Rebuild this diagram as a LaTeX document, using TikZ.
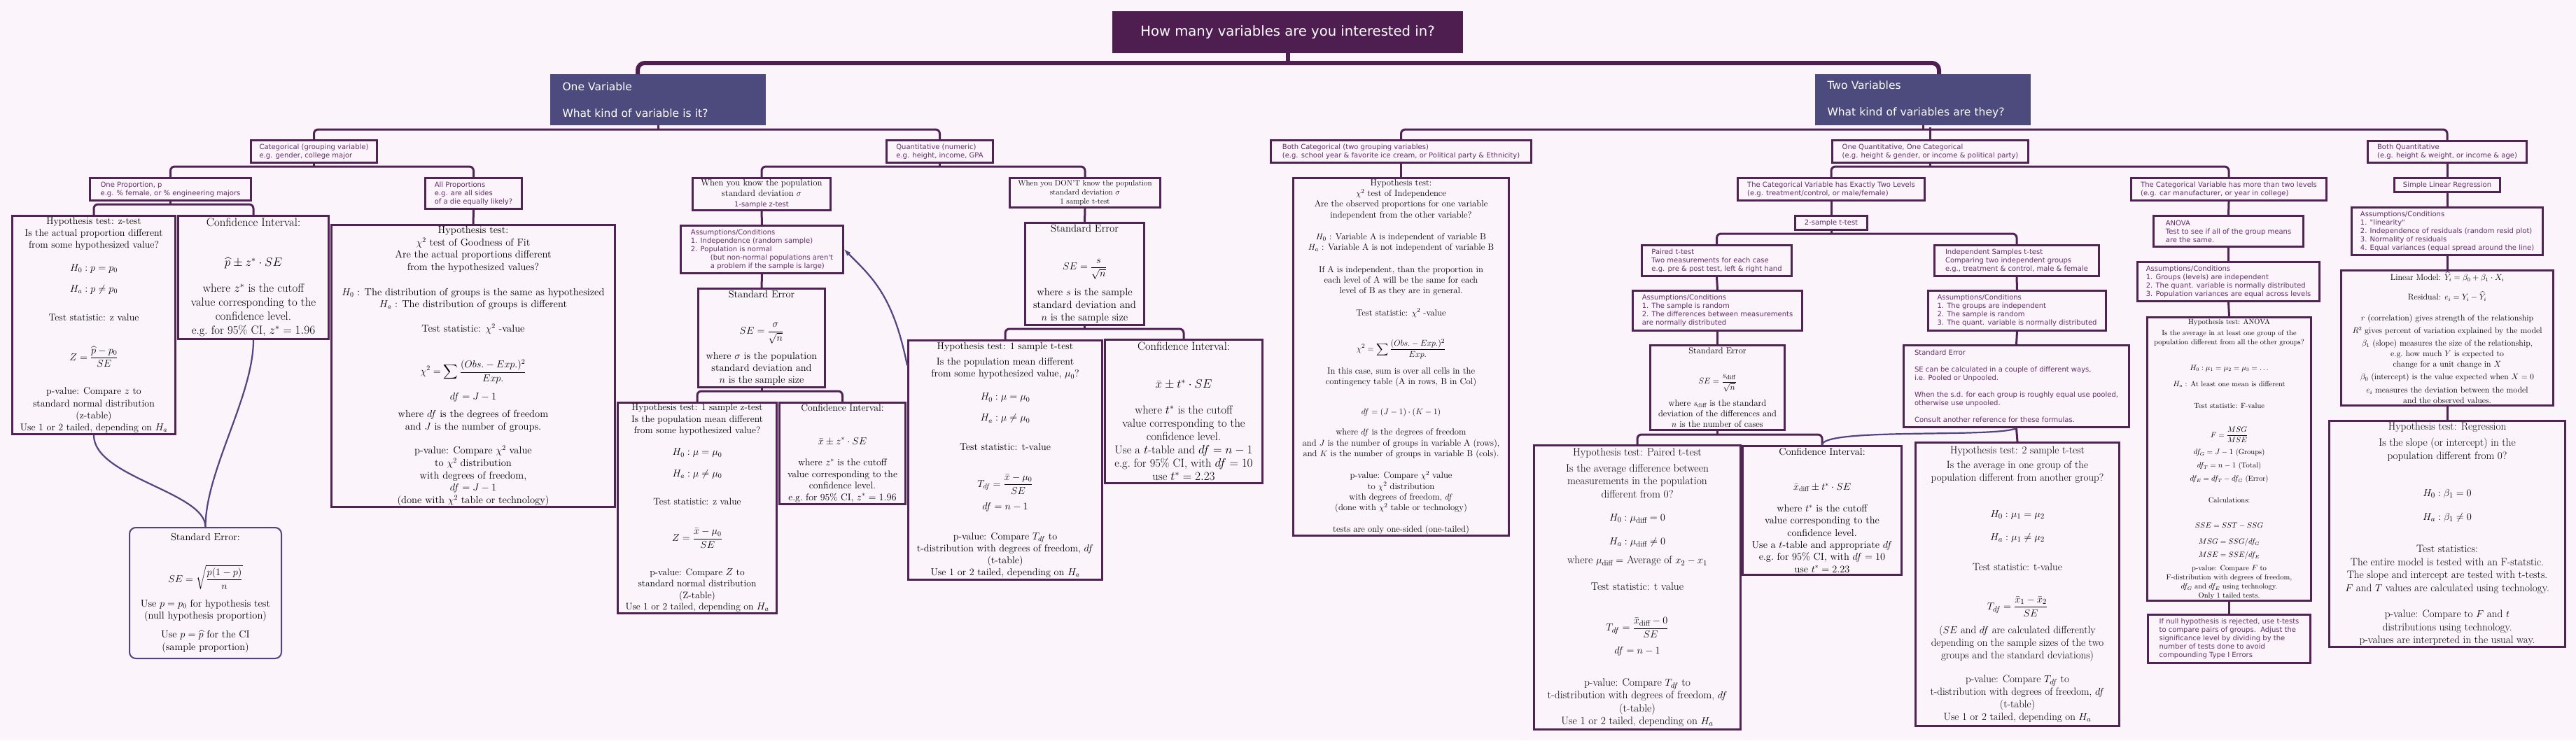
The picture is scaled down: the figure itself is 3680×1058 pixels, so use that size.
\documentclass[tikz,border=0pt]{standalone}
\usepackage{amsmath}
\usepackage{fontspec}
\newfontfamily\sansf{DejaVu Sans}
\usepackage{tikz}
\usetikzlibrary{arrows,calc,positioning}
\definecolor{bg}{RGB}{251,245,251}
\definecolor{boxc}{RGB}{80,35,84}
\definecolor{sanstext}{RGB}{100,45,105}
\definecolor{titlefill}{RGB}{78,30,80}
\definecolor{varfill}{RGB}{77,74,125}
\definecolor{curvec}{RGB}{82,68,128}
\newcommand{\fsz}[2]{\fontsize{#1}{#2}\selectfont}
\tikzstyle{sbox} = [rectangle, draw=boxc, line width=3pt, anchor=north west, inner xsep=8pt, inner ysep=2pt, align=left, text=sanstext, font={\sansf\fsz{10}{12}}]
\tikzstyle{tbox} = [rectangle, draw=boxc, line width=3pt, anchor=north west, inner sep=2pt, align=center]
\tikzstyle{conn} = [draw=boxc, line width=3pt, rounded corners=6pt]
\tikzstyle{curv} = [draw=curvec, line width=2.2pt]
\tikzstyle{bracket} = [draw=titlefill, line width=6pt, rounded corners=10pt]
\begin{document}
\begin{tikzpicture}[x=1pt,y=-1pt]
    \fill[bg] (0,0) rectangle (3680,1058);
    \useasboundingbox (0,0) rectangle (3680,1058);

    \node [tbox, fill=titlefill, draw=titlefill, text=white, font={\sansf\fsz{19.6}{24}}, minimum width=498pt, minimum height=57pt] (title) at (1589,16) {How many variables are you interested in?};
    \node [tbox, fill=varfill, draw=varfill, text=white, align=left, text width=273pt, inner xsep=16pt, minimum height=70pt, font={\sansf\fsz{15.5}{19}}] (onevar) at (786,106) {One Variable\\[19pt]What kind of variable is it?};
    \node [tbox, fill=varfill, draw=varfill, text=white, align=left, text width=273pt, inner xsep=16pt, minimum height=70pt, font={\sansf\fsz{15.5}{19}}] (twovar) at (2593,106) {Two Variables\\[19pt]What kind of variables are they?};

    % one variable
    \node [sbox, minimum width=180pt, minimum height=32pt] (cat) at (357,199) {Categorical (grouping variable)\\e.g. gender, college major};
    \node [sbox, minimum width=152pt, minimum height=32pt] (quant) at (1265,199) {Quantitative (numeric)\\e.g. height, income, GPA};
    \node [sbox, minimum width=230pt, minimum height=32pt] (oneprop) at (127,253) {One Proportion, p\\e.g. \% female, or \% engineering majors};
    \node [sbox, minimum width=138pt, minimum height=44pt] (allprop) at (606,253) {All Proportions\\e.g. are all sides\\of a die equally likely?};

    \node [tbox, minimum width=233pt, minimum height=308pt, font=\fsz{14}{17.3}] (ztestp) at (16,307) {Hypothesis test: z-test\\ Is the actual proportion different\\ from some hypothesized value?\\[15pt] $H_0: p=p_0$\\[13pt] $H_a: p\neq p_0$\\[24pt] Test statistic: z value\\[35pt] $\displaystyle Z=\frac{\widehat{p}-p_0}{SE}$\\[28pt] p-value: Compare $z$ to\\ standard normal distribution\\ (z-table)\\ Use 1 or 2 tailed, depending on $H_a$};
    \node [tbox, minimum width=215pt, minimum height=176pt, font=\fsz{16.8}{20}] (cip) at (253,307) {Confidence Interval:\\[37pt] $\widehat{p}\pm z^*\cdot SE$\\[17pt] where $z^*$ is the cutoff\\ value corresponding to the\\ confidence level.\\ e.g.\ for 95\% CI, $z^*=1.96$};
    \node [tbox, minimum width=405pt, minimum height=403pt, font=\fsz{14.6}{17.6}] (gof) at (472,320) {Hypothesis test:\\ $\chi^2$ test of Goodness of Fit\\ Are the actual proportions different\\ from the hypothesized values?\\[18pt] $H_0$ : The distribution of groups is the same as hypothesized\\ $H_a$ : The distribution of groups is different\\[17pt] Test statistic: $\chi^2$ -value\\[36pt] $\displaystyle\chi^2=\sum\frac{(Obs.-Exp.)^2}{Exp.}$\\[12pt] $df=J-1$\\[8pt] where $df$ is the degrees of freedom\\ and $J$ is the number of groups.\\[17pt] p-value: Compare $\chi^2$ value\\ to $\chi^2$ distribution\\ with degrees of freedom,\\ $df=J-1$\\ (done with $\chi^2$ table or technology)};
    \node [tbox, draw=curvec, line width=2pt, rounded corners=9pt, minimum width=217pt, minimum height=187pt, font=\fsz{14.5}{17.7}] (sep) at (184,753) {Standard Error:\\[34pt] $\displaystyle SE=\sqrt{\frac{p(1-p)}{n}}$\\[13pt] Use $p=p_0$ for hypothesis test\\ (null hypothesis proportion)\\[9pt] Use $p=\widehat{p}$ for the CI\\ (sample proportion)};

    \node [tbox, minimum width=197pt, minimum height=46pt, font=\fsz{12.8}{15}] (zknow) at (988,253) {When you know the population\\ standard deviation $\sigma$\\ {\sansf\fsz{10}{13}\color{sanstext}1-sample z-test}};
    \node [sbox, minimum width=232pt, minimum height=68pt] (zassume) at (971,321) {Assumptions/Conditions\\1. Independence (random sample)\\2. Population is normal\\\hspace*{28pt}(but non-normal populations aren't\\\hspace*{28pt}a problem if the sample is large)};
    \node [tbox, minimum width=181pt, minimum height=141pt, font=\fsz{14.4}{17}] (zse) at (996,411) {Standard Error\\[35pt] $\displaystyle SE=\frac{\sigma}{\sqrt{n}}$\\[12pt] where $\sigma$ is the population\\ standard deviation and\\ $n$ is the sample size};
    \node [tbox, minimum width=227pt, minimum height=300pt, font=\fsz{13.6}{16.3}] (zhyp) at (881,574) {Hypothesis test: 1 sample z-test\\ Is the population mean different\\ from some hypothesized value?\\[15pt] $H_0: \mu=\mu_0$\\[14pt] $H_a: \mu\neq\mu_0$\\[24pt] Test statistic: z value\\[33pt] $\displaystyle Z=\frac{\bar{x}-\mu_0}{SE}$\\[28pt] p-value: Compare $Z$ to\\ standard normal distribution\\ (Z-table)\\ Use 1 or 2 tailed, depending on $H_a$};
    \node [tbox, minimum width=180pt, minimum height=145pt, font=\fsz{13.8}{16.5}] (zci) at (1112,574) {Confidence Interval:\\[31pt] $\bar{x}\pm z^*\cdot SE$\\[14pt] where $z^*$ is the cutoff\\ value corresponding to the\\ confidence level.\\ e.g.\ for 95\% CI, $z^*=1.96$};

    \node [tbox, minimum width=215pt, minimum height=42pt, font=\fsz{11.2}{13.3}] (tknow) at (1441,253) {When you DON'T know the population\\ standard deviation $\sigma$\\ 1 sample t-test};
    \node [tbox, minimum width=170pt, minimum height=146pt, font=\fsz{14.8}{18}] (tse) at (1463,317) {Standard Error\\[36pt] $\displaystyle SE=\frac{s}{\sqrt{n}}$\\[12pt] where $s$ is the sample\\ standard deviation and\\ $n$ is the sample size};
    \node [tbox, minimum width=277pt, minimum height=342pt, font=\fsz{14.2}{17}] (thyp) at (1296,485) {Hypothesis test: 1 sample t-test\\[5pt] Is the population mean different\\ from some hypothesized value, $\mu_0$?\\[16pt] $H_0: \mu=\mu_0$\\[13pt] $H_a: \mu\neq\mu_0$\\[25pt] Test statistic: t-value\\[33pt] $\displaystyle T_{df}=\frac{\bar{x}-\mu_0}{SE}$\\[11pt] $df=n-1$\\[26pt] p-value: Compare $T_{df}$ to\\ t-distribution with degrees of freedom, $df$\\ (t-table)\\ Use 1 or 2 tailed, depending on $H_a$};
    \node [tbox, minimum width=225pt, minimum height=205pt, font=\fsz{16.5}{19}] (tci) at (1577,484) {Confidence Interval:\\[35pt] $\bar{x}\pm t^*\cdot SE$\\[18pt] where $t^*$ is the cutoff\\ value corresponding to the\\ confidence level.\\ Use a $t$-table and $df=n-1$\\ e.g.\ for 95\% CI, with $df=10$\\ use $t^*=2.23$};

    % two variables
    \node [sbox, minimum width=372pt, minimum height=32pt] (bothcat) at (1814,199) {Both Categorical (two grouping variables)\\(e.g. school year \& favorite ice cream, or Political party \& Ethnicity)};
    \node [tbox, minimum width=308pt, minimum height=507pt, font=\fsz{12.7}{15.3}] (indep) at (1846,253) {Hypothesis test:\\ $\chi^2$ test of Independence\\ Are the observed proportions for one variable\\ independent from the other variable?\\[16pt] $H_0$ : Variable A is independent of variable B\\ $H_a$ : Variable A is not independent of variable B\\[16pt] If A is independent, than the proportion in\\ each level of A will be the same for each\\ level of B as they are in general.\\[16pt] Test statistic: $\chi^2$ -value\\[30pt] $\displaystyle\chi^2=\sum\frac{(Obs.-Exp.)^2}{Exp.}$\\[11pt] In this case, sum is over all cells in the\\ contingency table (A in rows, B in Col)\\[28pt] $df=(J-1)\cdot(K-1)$\\[14pt] where $df$ is the degrees of freedom\\ and $J$ is the number of groups in variable A (rows),\\ and $K$ is the number of groups in variable B (cols).\\[16pt] p-value: Compare $\chi^2$ value\\ to $\chi^2$ distribution\\ with degrees of freedom, $df$\\ (done with $\chi^2$ table or technology)\\[15pt] tests are only one-sided (one-tailed)};

    \node [sbox, minimum width=280pt, minimum height=32pt] (onequant) at (2616,199) {One Quantitative, One Categorical\\(e.g. height \& gender, or income \& political party)};
    \node [sbox, minimum width=267pt, minimum height=32pt] (twolevels) at (2481,253) {The Categorical Variable has Exactly Two Levels\\(e.g. treatment/control, or male/female)};
    \node [sbox, minimum width=103pt, minimum height=20pt] (twosample) at (2563,307) {2-sample t-test};
    \node [sbox, minimum width=214pt, minimum height=44pt] (paired) at (2344,349) {Paired t-test\\Two measurements for each case\\e.g. pre \& post test, left \& right hand};
    \node [sbox, minimum width=242pt, minimum height=57pt] (passume) at (2331,414) {Assumptions/Conditions\\1. The sample is random\\2. The differences between measurements\\are normally distributed};
    \node [tbox, minimum width=192pt, minimum height=121pt, font=\fsz{12.6}{15}] (pse) at (2356,492) {Standard Error\\[28pt] $\displaystyle SE=\frac{s_{\text{diff}}}{\sqrt{n}}$\\[11pt] where $s_{\text{diff}}$ is the standard\\ deviation of the differences and\\ $n$ is the number of cases};
    \node [tbox, minimum width=295pt, minimum height=406pt, font=\fsz{15.5}{18.3}] (phyp) at (2190,635) {Hypothesis test: Paired t-test\\[5pt] Is the average difference between\\ measurements in the population\\ different from 0?\\[15pt] $H_0: \mu_{\text{diff}}=0$\\[16pt] $H_a: \mu_{\text{diff}}\neq 0$\\[9pt] where $\mu_{\text{diff}}=$ Average of $x_2-x_1$\\[19pt] Test statistic: t value\\[38pt] $\displaystyle T_{df}=\frac{\bar{x}_{\text{diff}}-0}{SE}$\\[12pt] $df=n-1$\\[28pt] p-value: Compare $T_{df}$ to\\ t-distribution with degrees of freedom, $df$\\ (t-table)\\ Use 1 or 2 tailed, depending on $H_a$};
    \node [tbox, minimum width=227pt, minimum height=184pt, font=\fsz{14.4}{17.3}] (pci) at (2488,636) {Confidence Interval:\\[32pt] $\bar{x}_{\text{diff}}\pm t^*\cdot SE$\\[14pt] where $t^*$ is the cutoff\\ value corresponding to the\\ confidence level.\\ Use a $t$-table and appropriate $df$\\ e.g.\ for 95\% CI, with $df=10$\\ use $t^*=2.23$};

    \node [sbox, minimum width=235pt, minimum height=44pt] (indsamp) at (2762,349) {Independent Samples t-test\\Comparing two independent groups\\e.g., treatment \& control, male \& female};
    \node [sbox, minimum width=254pt, minimum height=57pt] (iassume) at (2753,414) {Assumptions/Conditions\\1. The groups are independent\\2. The sample is random\\3. The quant. variable is normally distributed};
    \node [sbox, minimum width=322pt, minimum height=117pt] (ise) at (2718,492) {Standard Error\\[12pt]SE can be calculated in a couple of different ways,\\i.e. Pooled or Unpooled.\\[12pt]When the s.d. for each group is roughly equal use pooled,\\otherwise use unpooled.\\[12pt]Consult another reference for these formulas.};
    \node [tbox, minimum width=291pt, minimum height=405pt, font=\fsz{15}{17.8}] (ihyp) at (2735,631) {Hypothesis test: 2 sample t-test\\[4pt] Is the average in one group of the\\ population different from another group?\\[34pt] $H_0: \mu_1=\mu_2$\\[15pt] $H_a: \mu_1\neq\mu_2$\\[25pt] Test statistic: t-value\\[37pt] $\displaystyle T_{df}=\frac{\bar{x}_1-\bar{x}_2}{SE}$\\[12pt] ($SE$ and $df$ are calculated differently\\ depending on the sample sizes of the two\\ groups and the standard deviations)\\[17pt] p-value: Compare $T_{df}$ to\\ t-distribution with degrees of freedom, $df$\\ (t-table)\\ Use 1 or 2 tailed, depending on $H_a$};

    \node [sbox, minimum width=279pt, minimum height=32pt] (moretwo) at (3043,253) {The Categorical Variable has more than two levels\\(e.g. car manufacturer, or year in college)};
    \node [sbox, minimum width=214pt, minimum height=44pt] (anova) at (3075,307) {ANOVA\\Test to see if all of the group means\\are the same.};
    \node [sbox, minimum width=260pt, minimum height=56pt] (aassume) at (3052,373) {Assumptions/Conditions\\1. Groups (levels) are independent\\2. The quant. variable is normally distributed\\3. Population variances are equal across levels};
    \node [tbox, minimum width=234pt, minimum height=404pt, font=\fsz{10.5}{13}] (ahyp) at (3066,452) {Hypothesis test: ANOVA\\[3pt] Is the average in at least one group of the\\ population different from all the other groups?\\[24pt] $H_0: \mu_1=\mu_2=\mu_3=\ldots$\\[10pt] $H_a$ : At least one mean is different\\[18pt] Test statistic: F-value\\[26pt] $\displaystyle F=\frac{MSG}{MSE}$\\[8pt] $df_G=J-1$ (Groups)\\[6pt] $df_T=n-1$ (Total)\\[6pt] $df_E=df_T-df_G$ (Error)\\[18pt] Calculations:\\[23pt] $SSE=SST-SSG$\\[10pt] $MSG=SSG/df_G$\\[6pt] $MSE=SSE/df_E$\\[6pt] p-value: Compare $F$ to\\ F-distribution with degrees of freedom,\\ $df_G$ and $df_E$ using technology.\\ Only 1 tailed tests.};
    \node [sbox, minimum width=232pt, minimum height=69pt] (posthoc) at (3067,877) {If null hypothesis is rejected, use t-tests\\to compare pairs of groups.\ \ Adjust the\\significance level by dividing by the\\number of tests done to avoid\\compounding Type I Errors};

    \node [sbox, minimum width=227pt, minimum height=31pt] (bothquant) at (3381,200) {Both Quantitative\\(e.g. height \& weight, or income \& age)};
    \node [sbox, minimum width=151pt, minimum height=20pt] (slr) at (3419,253) {Simple Linear Regression};
    \node [sbox, minimum width=273pt, minimum height=68pt] (sassume) at (3358,295) {Assumptions/Conditions\\1. "linearity"\\2. Independence of residuals (random resid plot)\\3. Normality of residuals\\4. Equal variances (equal spread around the line)};
    \node [tbox, minimum width=303pt, minimum height=193pt, font=\fsz{12}{15}] (linmod) at (3343,385) {Linear Model: $\widehat{Y}_i=\beta_0+\beta_1\cdot X_i$\\[13pt] Residual: $e_i=Y_i-\widehat{Y}_i$\\[15pt] $r$ (correlation) gives strength of the relationship\\[3pt] $R^2$ gives percent of variation explained by the model\\[3pt] $\beta_1$ (slope) measures the size of the relationship,\\ e.g.\ how much $Y$ is expected to\\ change for a unit change in $X$\\[3pt] $\beta_0$ (intercept) is the value expected when $X=0$\\[4pt] $e_i$ measures the deviation between the model\\ and the observed values.};
    \node [tbox, minimum width=337pt, minimum height=320pt, font=\fsz{15.2}{18.5}] (rhyp) at (3326,600) {Hypothesis test: Regression\\[5pt] Is the slope (or intercept) in the\\ population different from 0?\\[35pt] $H_0: \beta_1=0$\\[15pt] $H_a: \beta_1\neq 0$\\[28pt] Test statistics:\\ The entire model is tested with an F-statstic.\\ The slope and intercept are tested with t-tests.\\ $F$ and $T$ values are calculated using technology.\\[19pt] p-value: Compare to $F$ and $t$\\ distributions using technology.\\ p-values are interpreted in the usual way.};

    % connectors
    \coordinate (lbr) at (911,106);
    \coordinate (rbr) at (2770,106);
    \draw[bracket] (lbr) |- ($(title.south)+(0,14)$) -| (rbr);
    \draw[bracket] (title.south) -- ++(0,14);

    \draw[conn] (onevar.south) -- ++(0,6);
    \draw[conn] (cat.north) |- ($(onevar.south)+(0,6)$) -| (quant.north);
    \draw[conn] (cat.south) -- ++(0,4);
    \draw[conn] (oneprop.north) |- ($(cat.south)+(0,4)$) -| (allprop.north);
    \draw[conn] (oneprop.south) -- ++(0,4);
    \draw[conn] (ztestp.north) |- ($(oneprop.south)+(0,4)$) -| (cip.north);
    \draw[conn] (allprop.south) -- (gof.north);
    \draw[curv] (ztestp.south) .. controls +(0,60) and +(0,-50) .. (sep.north);
    \draw[curv] (cip.south) .. controls +(0,80) and +(0,-80) .. (sep.north);

    \draw[conn] (quant.south) -- ++(0,4);
    \draw[conn] (zknow.north) |- ($(quant.south)+(0,4)$) -| (tknow.north);
    \draw[conn] (zknow.south) -- (zassume.north);
    \draw[conn] (zassume.south) -- (zse.north);
    \draw[conn] (zse.south) -- ++(0,4);
    \draw[conn] (zhyp.north) |- ($(zse.south)+(0,4)$) -| (zci.north);
    \draw[conn] (tknow.south) -- (tse.north);
    \draw[conn] (tse.south) -- ++(0,4);
    \draw[conn] (thyp.north) |- ($(tse.south)+(0,4)$) -| (tci.north);
    \draw[curv,-latex] (thyp.136) .. controls +(-20,-100) and +(40,40) .. (zassume.east);

    \draw[conn] (twovar.south) -- ++(0,6);
    \draw[conn] (bothcat.north) |- ($(twovar.south)+(0,6)$) -| (bothquant.north);
    \draw[conn] (onequant.north) -- ++(0,-17);
    \draw[conn] (bothcat.south) -- (indep.north);
    \draw[conn] (onequant.south) -- ++(0,4);
    \draw[conn] (twolevels.north) |- ($(onequant.south)+(0,4)$) -| (moretwo.north);
    \draw[conn] (twolevels.south) -- (twosample.north);
    \draw[conn] (twosample.south) -- ++(0,4);
    \draw[conn] (paired.north) |- ($(twosample.south)+(0,4)$) -| (indsamp.north);
    \draw[conn] (paired.south) -- (passume.north);
    \draw[conn] (passume.south) -- (pse.north);
    \draw[conn] (pse.south) -- ++(0,5);
    \draw[conn] (phyp.north) |- ($(pse.south)+(0,5)$) -| (pci.north);
    \draw[conn] (indsamp.south) -- (iassume.north);
    \draw[conn] (iassume.south) -- (ise.north);
    \draw[conn] (ise.south) -- (ihyp.north);
    \draw[curv] (ise.south) .. controls +(-30,14) and +(0,-25) .. (pci.north);
    \draw[conn] (moretwo.south) -- (anova.north);
    \draw[conn] (anova.south) -- (aassume.north);
    \draw[conn] (aassume.south) -- (ahyp.north);
    \draw[conn] (ahyp.south) -- (posthoc.north);
    \draw[conn] (bothquant.south) -- (slr.north);
    \draw[conn] (slr.south) -- (sassume.north);
    \draw[conn] (sassume.south) -- (linmod.north);
    \draw[conn] (linmod.south) -- (rhyp.north);
\end{tikzpicture}
\end{document}
